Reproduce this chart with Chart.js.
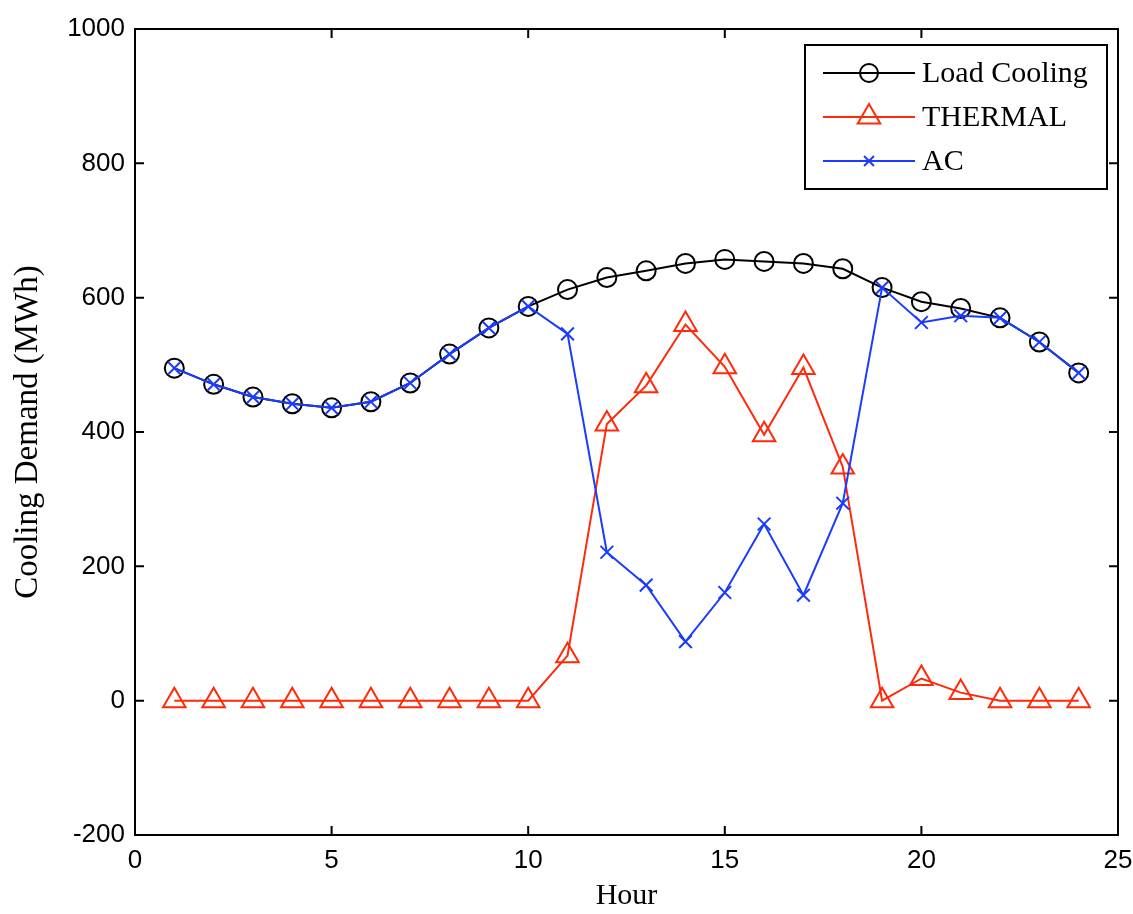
<!DOCTYPE html>
<html>
<head>
<meta charset="utf-8">
<script src="https://cdn.jsdelivr.net/npm/chart.js@4.4.1/dist/chart.umd.min.js"></script>
<style>
  html, body { margin: 0; padding: 0; background: #fff; }
  canvas { display: block; }
</style>
</head>
<body>
<canvas id="grafico" width="1133" height="914"></canvas>
<script>
// dados
const horas = [1, 2, 3, 4, 5, 6, 7, 8, 9, 10, 11, 12, 13, 14, 15, 16, 17, 18, 19, 20, 21, 22, 23, 24];
const loadCooling = [495, 471, 452, 442, 436, 445, 473, 516, 555, 587, 612, 630, 640, 651, 657, 654, 651, 643, 615, 594, 584, 570, 534, 488];
const thermal = [0, 0, 0, 0, 0, 0, 0, 0, 0, 0, 67, 412, 469, 560, 497, 396, 496, 348, 0, 33, 12, 0, 0, 0];
const ac = [495, 471, 452, 442, 436, 445, 473, 516, 555, 587, 546, 221, 172, 88, 161, 263, 157, 294, 615, 563, 573, 570, 534, 488];
const xTicks = [0, 5, 10, 15, 20, 25];
const yTicks = [-200, 0, 200, 400, 600, 800, 1000];

const PRETO = '#000000';
const VERMELHO = '#ff2a0a';
const AZUL = '#1a3cff';

function pontos(valores) {
    return horas.map((h, i) => ({ x: h, y: valores[i] }));
}

// moldura estilo MATLAB com ticks para dentro
const moldura = {
    id: 'moldura',
    afterDatasetsDraw(chart) {
        const { ctx, chartArea: a, scales: { x, y } } = chart;
        ctx.save();
        ctx.strokeStyle = PRETO;
        ctx.lineWidth = 2;
        ctx.strokeRect(a.left, a.top, a.right - a.left, a.bottom - a.top);
        ctx.beginPath();
        xTicks.forEach(v => {
            const px = x.getPixelForValue(v);
            ctx.moveTo(px, a.bottom); ctx.lineTo(px, a.bottom - 9);
            ctx.moveTo(px, a.top); ctx.lineTo(px, a.top + 9);
        });
        yTicks.forEach(v => {
            const py = y.getPixelForValue(v);
            ctx.moveTo(a.left, py); ctx.lineTo(a.left + 9, py);
            ctx.moveTo(a.right, py); ctx.lineTo(a.right - 9, py);
        });
        ctx.stroke();
        ctx.restore();
    }
};

const legenda = {
    id: 'legenda',
    afterDraw(chart) {
        const { ctx, chartArea: a } = chart;
        const box = { x: a.right - 313, y: a.top + 16, w: 302, h: 144 };
        ctx.save();
        ctx.fillStyle = '#fff';
        ctx.fillRect(box.x, box.y, box.w, box.h);
        ctx.strokeStyle = PRETO;
        ctx.lineWidth = 2;
        ctx.strokeRect(box.x, box.y, box.w, box.h);
        chart.data.datasets.forEach((ds, i) => {
            const yy = box.y + 28 + i * 44;
            ctx.strokeStyle = ds.borderColor;
            ctx.lineWidth = 2;
            ctx.beginPath();
            ctx.moveTo(box.x + 18, yy);
            ctx.lineTo(box.x + 110, yy);
            ctx.stroke();
            ctx.fillStyle = 'rgba(0,0,0,0)';
            Chart.helpers.drawPoint(ctx, {
                pointStyle: ds.pointStyle,
                radius: ds.legendRadius,
                borderWidth: 2,
                rotation: 0
            }, box.x + 64, yy);
            ctx.fillStyle = PRETO;
            ctx.font = '30px "Liberation Serif", serif';
            ctx.textAlign = 'left';
            ctx.textBaseline = 'middle';
            ctx.fillText(ds.label, box.x + 117, yy + 1);
        });
        ctx.restore();
    }
};

new Chart(document.getElementById('grafico'), {
    type: 'line',
    data: {
        datasets: [
            {
                label: 'Load Cooling',
                data: pontos(loadCooling),
                borderColor: PRETO,
                borderWidth: 2,
                pointStyle: 'circle',
                pointRadius: 9.5,
                pointBorderWidth: 2,
                pointBorderColor: PRETO,
                pointBackgroundColor: 'rgba(0,0,0,0)',
                legendRadius: 9,
                tension: 0,
                order: 2
            },
            {
                label: 'THERMAL',
                data: pontos(thermal),
                borderColor: VERMELHO,
                borderWidth: 2,
                pointStyle: 'triangle',
                pointRadius: 13,
                pointBorderWidth: 2,
                pointBorderColor: VERMELHO,
                pointBackgroundColor: 'rgba(0,0,0,0)',
                legendRadius: 13,
                tension: 0,
                order: 1
            },
            {
                label: 'AC',
                data: pontos(ac),
                borderColor: AZUL,
                borderWidth: 2,
                pointStyle: 'crossRot',
                pointRadius: 9,
                pointBorderWidth: 2,
                pointBorderColor: AZUL,
                pointBackgroundColor: 'rgba(0,0,0,0)',
                legendRadius: 7,
                tension: 0,
                order: 0
            }
        ]
    },
    options: {
        responsive: false,
        animation: false,
        devicePixelRatio: 1,
        layout: { padding: { top: 29, right: 15, left: 0, bottom: 0 } },
        plugins: {
            legend: { display: false },
            tooltip: { enabled: false }
        },
        scales: {
            x: {
                type: 'linear',
                min: 0,
                max: 25,
                afterBuildTicks: s => { s.ticks = xTicks.map(v => ({ value: v })); },
                afterFit: s => { s.height = 79; s.paddingLeft = 0; s.paddingRight = 0; },
                grid: { display: false, drawTicks: false },
                border: { display: false },
                ticks: {
                    color: PRETO,
                    padding: 10,
                    font: { family: '"Liberation Sans Narrow", "Liberation Sans", sans-serif', size: 26 }
                },
                title: {
                    display: true,
                    text: 'Hour',
                    color: PRETO,
                    padding: { top: 0, bottom: 0 },
                    font: { family: '"Liberation Serif", serif', size: 30 }
                }
            },
            y: {
                min: -200,
                max: 1000,
                afterBuildTicks: s => { s.ticks = yTicks.map(v => ({ value: v })); },
                afterFit: s => { s.width = 135; },
                grid: { display: false, drawTicks: false },
                border: { display: false },
                ticks: {
                    color: PRETO,
                    padding: 10,
                    callback: v => String(v),
                    font: { family: '"Liberation Sans", sans-serif', size: 26 }
                },
                title: {
                    display: true,
                    text: 'Cooling Demand (MWh)',
                    color: PRETO,
                    padding: { top: 9, bottom: 0 },
                    font: { family: '"Liberation Serif", serif', size: 33 }
                }
            }
        }
    },
    plugins: [moldura, legenda]
});
</script>
</body>
</html>
